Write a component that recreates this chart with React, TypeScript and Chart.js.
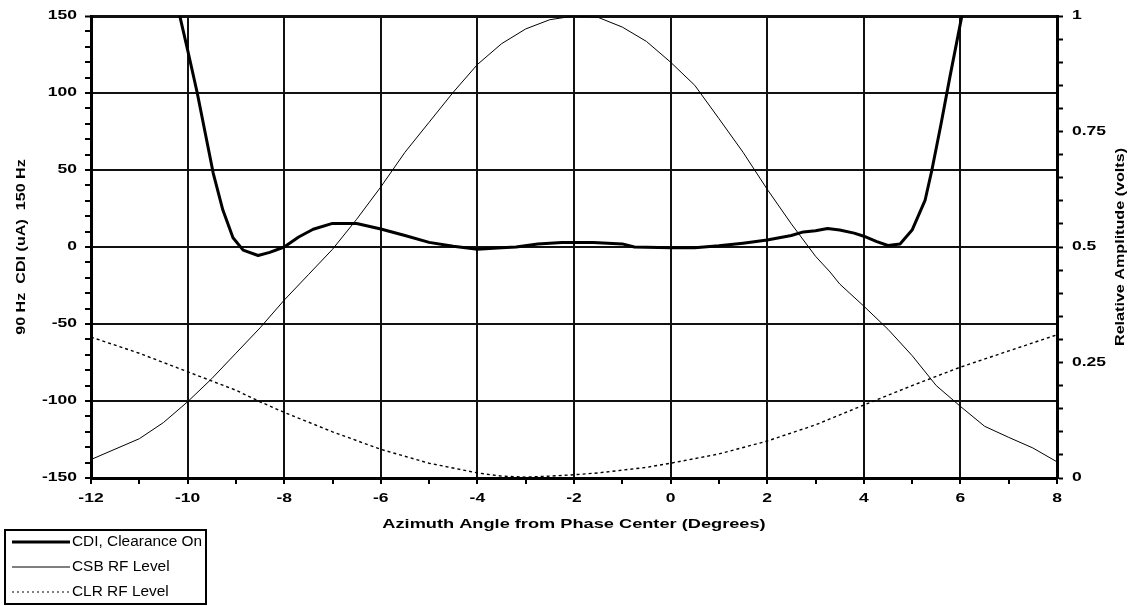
import React, { useEffect, useRef } from "react";
import { Chart, registerables } from "chart.js";

Chart.register(...registerables);

// ---- Data ----
const cdiAngles = [-10.25, -10.0, -9.8, -9.47, -9.27, -9.06, -8.85, -8.54, -8.3, -8.0, -7.7, -7.4, -7.0, -6.5, -6.0, -5.5, -5.0, -4.5, -4.0, -3.5, -3.2, -2.75, -2.25, -1.6, -1.0, -0.75, 0, 0.5, 1.0, 1.5, 2.0, 2.5, 2.75, 3.0, 3.25, 3.5, 3.8, 4.0, 4.27, 4.5, 4.75, 5.0, 5.27, 5.41, 5.6, 5.78, 6.03, 6.1];
const cdiValues = [162, 128, 100, 48, 24, 6, -2, -5.5, -3.5, 0, 6.5, 11.5, 15.3, 15.3, 11.7, 7.5, 3, 0.5, -1.5, -0.5, 0, 2, 3, 3, 2, 0, -0.5, -0.5, 0.8, 2.5, 4.5, 7.5, 9.8, 10.5, 12, 11, 9, 7, 3.5, 1, 2, 11, 30.5, 50, 80, 110, 150, 160];

const csbAngles = [-12, -11, -10.5, -10, -9.5, -9, -8.5, -8, -7.5, -7, -6.5, -6, -5.5, -5, -4.5, -4, -3.5, -3, -2.5, -2, -1.5, -1, -0.5, 0, 0.5, 1, 1.5, 2, 2.5, 3, 3.3, 3.5, 4, 4.5, 5, 5.5, 6, 6.5, 7, 7.5, 8];
const csbValues = [0.04, 0.085, 0.12, 0.165, 0.215, 0.27, 0.325, 0.385, 0.44, 0.495, 0.56, 0.63, 0.705, 0.77, 0.835, 0.895, 0.94, 0.972, 0.992, 1.0, 0.997, 0.976, 0.945, 0.9, 0.85, 0.778, 0.705, 0.625, 0.55, 0.48, 0.446, 0.42, 0.372, 0.322, 0.265, 0.2, 0.155, 0.112, 0.088, 0.065, 0.035];

const clrAngles = [-12, -11, -10, -9, -8.5, -8, -7, -6, -5, -4, -3.5, -3, -2.5, -2, -1.5, -1, -0.5, 0, 1, 2, 3, 4, 5, 6, 7, 8];
const clrValues = [0.305, 0.27, 0.23, 0.19, 0.165, 0.142, 0.1, 0.062, 0.032, 0.011, 0.004, 0.002, 0.004, 0.007, 0.011, 0.017, 0.023, 0.032, 0.052, 0.08, 0.115, 0.158, 0.2, 0.24, 0.275, 0.31];

const seriesNames = ["CDI, Clearance On", "CSB RF Level", "CLR RF Level"];
const xTitle = "Azimuth Angle from Phase Center (Degrees)";
const yTitle = "90 Hz  CDI (uA)  150 Hz";
const y2Title = "Relative Amplitude (volts)";

const FONT = '"Liberation Sans", Arial, sans-serif';

function drawText(
  ctx: CanvasRenderingContext2D,
  text: string,
  x: number,
  y: number,
  font: string,
  align: CanvasTextAlign,
  sx: number,
  rot = 0
) {
  ctx.save();
  ctx.translate(x, y);
  if (rot) ctx.rotate(rot);
  ctx.scale(sx, 1);
  ctx.font = font;
  ctx.textAlign = align;
  ctx.textBaseline = "middle";
  ctx.fillStyle = "#000";
  ctx.fillText(text, 0, 0);
  ctx.restore();
}

const textPlugin = {
  id: "excelText",
  afterDraw(chart: any) {
    const ctx: CanvasRenderingContext2D = chart.ctx;
    const area = chart.chartArea;
    const xs = chart.scales.x;
    const ys = chart.scales.y;
    const y2 = chart.scales.y2;
    const tickFont = `bold 12.5px ${FONT}`;
    // x tick labels
    xs.ticks.forEach((t: any) => {
      const v = Math.round(t.value);
      if (v % 2 !== 0) return;
      drawText(ctx, String(v), xs.getPixelForValue(v), area.bottom + 21, tickFont, "center", 1.4);
    });
    // y tick labels
    ys.ticks.forEach((t: any) => {
      const v = Math.round(t.value);
      if (v % 50 !== 0) return;
      drawText(ctx, String(v), area.left - 14, ys.getPixelForValue(v), tickFont, "right", 1.4);
    });
    // y2 tick labels
    y2.ticks.forEach((t: any) => {
      const k = Math.round(t.value * 100);
      if (k % 25 !== 0) return;
      drawText(ctx, String(k / 100), area.right + 15, y2.getPixelForValue(k / 100), tickFont, "left", 1.4);
    });
    const midY = (area.top + area.bottom) / 2;
    const midX = (area.left + area.right) / 2;
    drawText(ctx, xTitle, midX, area.bottom + 46, `bold 13px ${FONT}`, "center", 1.4);
    drawText(ctx, yTitle, area.left - 69, midY, `bold 12.5px ${FONT}`, "center", 1.29, -Math.PI / 2);
    drawText(ctx, y2Title, area.right + 64, midY, `bold 12.5px ${FONT}`, "center", 1.29, -Math.PI / 2);

    // legend
    const lx = 5, ly = area.bottom + 52, lw = 201, lh = 74;
    ctx.save();
    ctx.strokeStyle = "#000";
    ctx.lineWidth = 2;
    ctx.strokeRect(lx, ly, lw, lh);
    const styles = [
      { w: 3, dash: [] as number[] },
      { w: 1, dash: [] as number[] },
      { w: 1.2, dash: [2, 3] },
    ];
    seriesNames.forEach((name, i) => {
      const ry = ly + 12 + i * 25;
      ctx.beginPath();
      ctx.lineWidth = styles[i].w;
      ctx.setLineDash(styles[i].dash);
      ctx.moveTo(lx + 7, ry);
      ctx.lineTo(lx + 65, ry);
      ctx.stroke();
      ctx.setLineDash([]);
      drawText(ctx, name, lx + 67, ry, `14px ${FONT}`, "left", 1.1);
    });
    ctx.restore();
  },
};

export default function App() {
  const ref = useRef<HTMLCanvasElement>(null);
  useEffect(() => {
    if (!ref.current) return;
    const gridW = 2;
    const chart = new Chart(ref.current, {
      type: "line",
      data: {
        datasets: [
          {
            label: seriesNames[0],
            data: cdiAngles.map((a, i) => ({ x: a, y: cdiValues[i] })),
            yAxisID: "y",
            borderColor: "#000",
            borderWidth: 3,
            pointRadius: 0,
            tension: 0,
            borderJoinStyle: "round",
            clip: 0,
            order: 0,
          },
          {
            label: seriesNames[1],
            data: csbAngles.map((a, i) => ({ x: a, y: csbValues[i] })),
            yAxisID: "y2",
            borderColor: "#000",
            borderWidth: 1,
            pointRadius: 0,
            tension: 0,
            clip: 0,
            order: 1,
          },
          {
            label: seriesNames[2],
            data: clrAngles.map((a, i) => ({ x: a, y: clrValues[i] })),
            yAxisID: "y2",
            borderColor: "#000",
            borderWidth: 1.4,
            borderDash: [3, 3],
            pointRadius: 0,
            tension: 0,
            clip: 0,
            order: 2,
          },
        ],
      },
      options: {
        animation: false,
        responsive: false,
        devicePixelRatio: 1,
        layout: { padding: { top: 16, left: 0, right: 0, bottom: 0 } },
        plugins: { legend: { display: false }, tooltip: { enabled: false } },
        scales: {
          x: {
            type: "linear",
            position: "bottom",
            min: -12,
            max: 8,
            ticks: { stepSize: 1, display: false, maxTicksLimit: 100, autoSkip: false, font: { size: 5 } },
            grid: {
              color: (c: any) => (Math.round(c.tick.value) % 2 === 0 ? "#111" : "rgba(0,0,0,0)"),
              tickColor: "#000",
              lineWidth: gridW,
              tickWidth: 2,
              tickLength: 6,
              drawTicks: true,
            },
            border: { display: true, color: "#000", width: 3 },
            afterFit: (s: any) => {
              s.height = 128;
            },
          },
          y: {
            type: "linear",
            position: "left",
            min: -150,
            max: 150,
            ticks: { stepSize: 10, display: false, maxTicksLimit: 100, autoSkip: false, font: { size: 5 } },
            grid: {
              color: (c: any) => (Math.round(c.tick.value) % 50 === 0 ? "#111" : "rgba(0,0,0,0)"),
              tickColor: "#000",
              lineWidth: (c: any) => (Math.round(c.tick.value) === 150 ? 3 : gridW),
              tickWidth: 2,
              tickLength: 6,
              drawTicks: true,
            },
            border: { display: true, color: "#000", width: 3 },
            afterFit: (s: any) => {
              s.width = 91;
            },
          },
          y2: {
            type: "linear",
            position: "right",
            min: 0,
            max: 1,
            ticks: { stepSize: 0.05, display: false, maxTicksLimit: 100, autoSkip: false, font: { size: 5 } },
            grid: {
              drawOnChartArea: false,
              color: "#000",
              tickColor: "#000",
              tickWidth: 2,
              tickLength: 6,
              drawTicks: true,
            },
            border: { display: true, color: "#000", width: 3 },
            afterFit: (s: any) => {
              s.width = 75;
            },
          },
        },
      },
      plugins: [textPlugin],
    } as any);
    return () => chart.destroy();
  }, []);
  return (
    <div style={{ position: "absolute", left: 0, top: 0, width: 1132, height: 606, background: "#fff" }}>
      <canvas ref={ref} width={1132} height={606} style={{ display: "block" }} />
    </div>
  );
}
